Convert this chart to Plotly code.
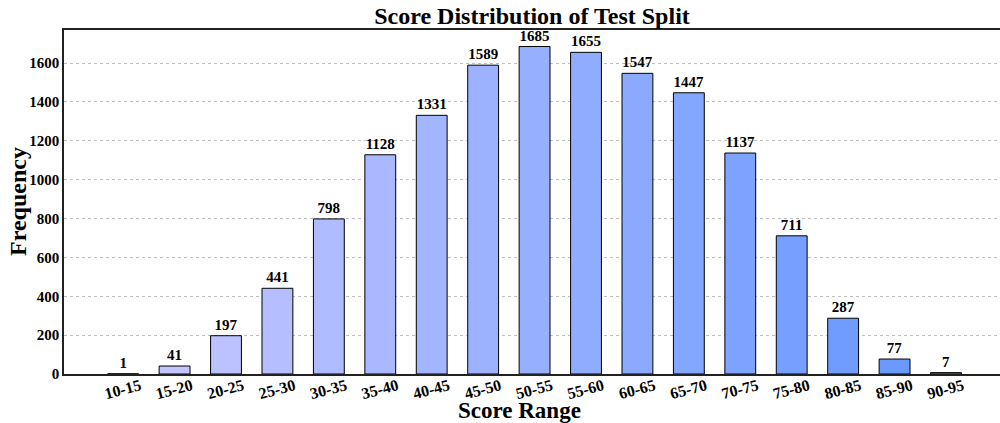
import plotly.graph_objects as go

# Score bins and counts (test split)
score_ranges = ["10-15", "15-20", "20-25", "25-30", "30-35", "35-40", "40-45",
                "45-50", "50-55", "55-60", "60-65", "65-70", "70-75", "75-80",
                "80-85", "85-90", "90-95"]
frequencies = [1, 41, 197, 441, 798, 1128, 1331, 1589, 1685, 1655, 1547,
               1447, 1137, 711, 287, 77, 7]
y_ticks = [0, 200, 400, 600, 800, 1000, 1200, 1400, 1600]

FONT = "Liberation Serif, Times New Roman, serif"

# light lavender -> blue, like the original gradient
c0 = (200, 200, 255)
c1 = (100, 150, 255)
n = len(score_ranges)
colors = []
for i in range(n):
    t = i / (n - 1)
    r, g, b = (round(a + (b_ - a) * t) for a, b_ in zip(c0, c1))
    colors.append(f"rgb({r},{g},{b})")

fig = go.Figure()
fig.add_trace(
    go.Bar(
        x=score_ranges,
        y=frequencies,
        width=0.6,
        marker=dict(color=colors, line=dict(color="black", width=1)),
        text=[f"<b>{v}</b>" for v in frequencies],
        textposition="outside",
        cliponaxis=False,
        textfont=dict(family=FONT, size=15, color="black"),
        showlegend=False,
    )
)

fig.update_layout(
    width=1000,
    height=423,
    margin=dict(l=64, r=0, t=30, b=49),
    paper_bgcolor="white",
    plot_bgcolor="white",
    font=dict(family=FONT, color="black"),
    title=dict(
        text="<b>Score Distribution of Test Split</b>",
        x=0.532, xanchor="center", y=0.962, yanchor="middle",
        font=dict(family=FONT, size=24, color="black"),
    ),
    xaxis=dict(
        range=[-1.15, 17.05],
        tickangle=-15,
        tickfont=dict(family=FONT, size=16),
        ticks="",
        ticklabelshift=17,
        ticklabelstandoff=-5,
        showline=True, linecolor="#222", linewidth=1.5, mirror=True,
        showgrid=False,
        automargin=False,
        tickvals=score_ranges,
        ticktext=[f"<b>{s}</b>" for s in score_ranges],
    ),
    yaxis=dict(
        range=[0, 1770],
        tickvals=y_ticks,
        ticktext=[f"<b>{v}</b>" for v in y_ticks],
        tickfont=dict(family=FONT, size=15),
        ticks="",
        ticklabelstandoff=0,
        showline=True, linecolor="#222", linewidth=1.5,
        showgrid=True, gridcolor="#bdbdbd", griddash="dot", gridwidth=0.8,
        zeroline=False,
        layer="above traces",
        automargin=False,
    ),
    bargap=0.4,
)

# axis titles placed by hand, like the matplotlib original
fig.add_annotation(
    text="<b>Score Range</b>", xref="paper", yref="paper", x=0.487, y=0,
    yanchor="middle", yshift=-36, showarrow=False,
    font=dict(family=FONT, size=23, color="black"),
)
fig.add_annotation(
    text="<b>Frequency</b>", xref="paper", yref="paper", x=0, y=0.5,
    xanchor="center", yanchor="middle", xshift=-46, textangle=-90, showarrow=False,
    font=dict(family=FONT, size=24, color="black"),
)

# drop the default 8px body margin so the figure fills the window exactly
fig.write_html(
    "out.html",
    config={"displayModeBar": False},
    post_script="document.body.style.margin='0';",
)
